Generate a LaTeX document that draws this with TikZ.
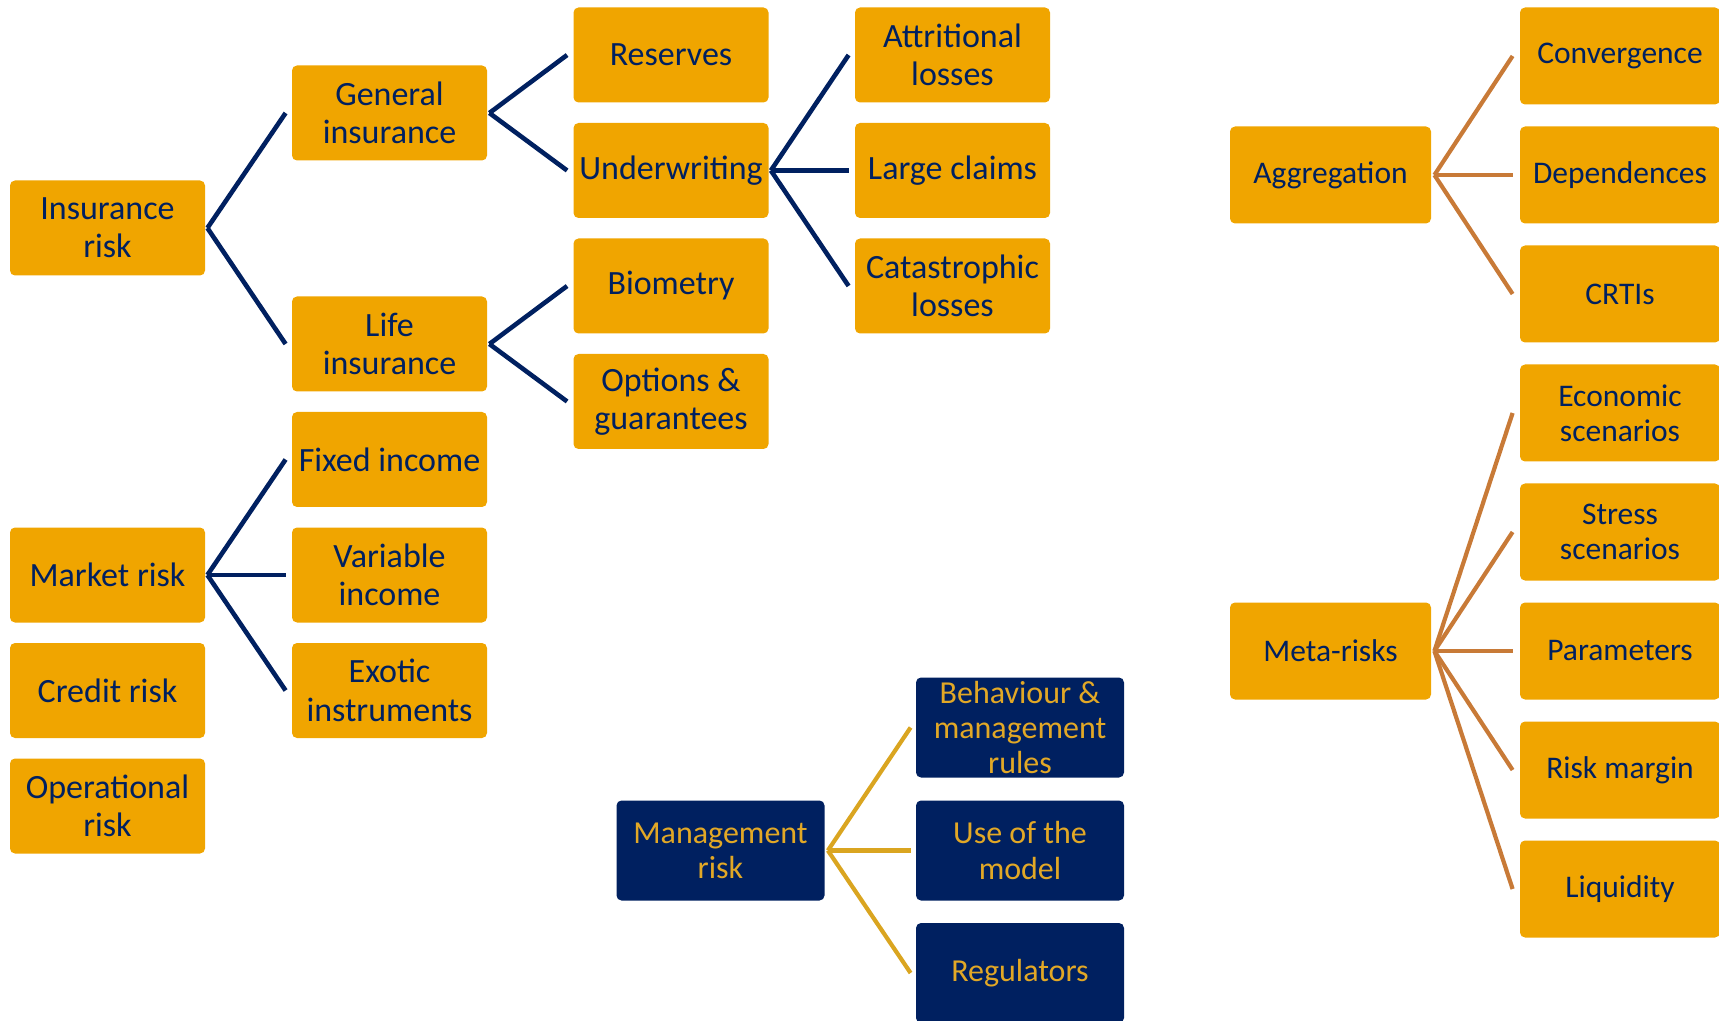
\documentclass[tikz,border=0pt]{standalone}
\usepackage{fontspec}
\setmainfont{Carlito}
\definecolor{boxorange}{RGB}{240,165,0}
\definecolor{navy}{RGB}{0,32,96}
\definecolor{linebrown}{RGB}{200,122,55}
\definecolor{linegold}{RGB}{218,165,32}
\definecolor{goldtext}{RGB}{226,168,38}
\begin{document}
\begin{tikzpicture}[x=0.5pt,y=-0.5pt,
  basebox/.style={rectangle, rounded corners=2.5pt, align=center, inner sep=0pt},
  lbox/.style={basebox, fill=boxorange, text=navy, minimum width=97.5pt, minimum height=47.5pt, font=\fontsize{17}{19.2}\selectfont},
  rbox/.style={basebox, fill=boxorange, text=navy, minimum width=100pt, minimum height=48.5pt, font=\fontsize{15.75}{17.6}\selectfont},
  mbox/.style={basebox, fill=navy, text=goldtext, minimum width=104pt, minimum height=50pt, font=\fontsize{16}{17.6}\selectfont},
  navyline/.style={draw=navy, line width=2.3pt},
  brownline/.style={draw=linebrown, line width=2.1pt},
  goldline/.style={draw=linegold, line width=2.1pt}
]
\useasboundingbox (0,0) rectangle (1719,1021);
% left group
\node[lbox] (ins) at (107.5,228) {Insurance\\risk};
\node[lbox] (mkt) at (107.5,575) {Market risk};
\node[lbox] (cred) at (107.5,690.5) {Credit risk};
\node[lbox] (oper) at (107.5,806) {Operational\\risk};
\node[lbox] (gen) at (389.5,113) {General\\insurance};
\node[lbox] (life) at (389.5,344) {Life\\insurance};
\node[lbox] (fixed) at (389.5,459.5) {Fixed income};
\node[lbox] (var) at (389.5,575) {Variable\\income};
\node[lbox] (exo) at (389.5,690.5) {Exotic\\instruments};
\node[lbox] (res) at (671,55) {Reserves};
\node[lbox] (und) at (671,170.5) {Underwriting};
\node[lbox] (bio) at (671,286) {Biometry};
\node[lbox] (opt) at (671,401.5) {Options \&\\guarantees};
\node[lbox] (att) at (952.5,55) {Attritional\\losses};
\node[lbox] (large) at (952.5,170.5) {Large claims};
\node[lbox] (cat) at (952.5,286) {Catastrophic\\losses};
% right group
\node[rbox, minimum width=100.5pt] (agg) at (1330.5,175) {Aggregation};
\node[rbox, minimum width=100.5pt] (meta) at (1330.5,651) {Meta-risks};
\node[rbox] (conv) at (1620,56) {Convergence};
\node[rbox] (dep) at (1620,175) {Dependences};
\node[rbox] (crti) at (1620,294) {CRTIs};
\node[rbox] (eco) at (1620,413) {Economic\\scenarios};
\node[rbox] (stress) at (1620,532) {Stress\\scenarios};
\node[rbox] (param) at (1620,651) {Parameters};
\node[rbox] (rm) at (1620,770) {Risk margin};
\node[rbox] (liq) at (1620,889) {Liquidity};
% management group
\node[mbox] (mgmt) at (720.5,850.5) {Management\\risk};
\node[mbox] (beh) at (1020,727.5) {Behaviour \&\\management\\rules};
\node[mbox] (use) at (1020,850.5) {Use of the\\model};
\node[mbox] (reg) at (1020,973) {Regulators};
% connectors
\foreach \p/\c in {ins/gen, ins/life, gen/res, gen/und, life/bio, life/opt, und/att, und/large, und/cat, mkt/fixed, mkt/var, mkt/exo}
  \draw[navyline] ([xshift=1pt]\p.east) -- ([xshift=-3pt]\c.west);
\foreach \p/\c in {agg/conv, agg/dep, agg/crti, meta/eco, meta/stress, meta/param, meta/rm, meta/liq}
  \draw[brownline] ([xshift=1.5pt]\p.east) -- ([xshift=-3.5pt]\c.west);
\foreach \p/\c in {mgmt/beh, mgmt/use, mgmt/reg}
  \draw[goldline] ([xshift=1.5pt]\p.east) -- ([xshift=-2.5pt]\c.west);
\end{tikzpicture}
\end{document}
